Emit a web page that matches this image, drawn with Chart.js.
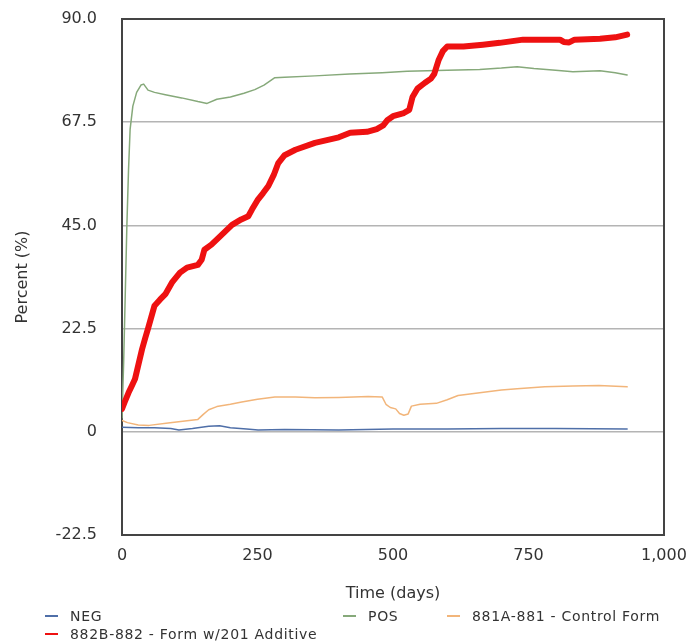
<!DOCTYPE html>
<html>
<head>
<meta charset="utf-8">
<script src="https://cdn.jsdelivr.net/npm/chart.js@4/dist/chart.umd.min.js"></script>
<style>
  html, body { margin: 0; padding: 0; background: #fff; }
  #wrap { position: relative; width: 692px; height: 642px; }
  #legend { position: absolute; left: 0; top: 0; width: 692px; height: 642px; pointer-events: none;
            font-family: "DejaVu Sans", sans-serif; font-size: 14px; letter-spacing: 0.7px; color: #333; }
  .item { position: absolute; white-space: nowrap; line-height: 16px; }
  .dash { display: inline-block; width: 13px; height: 2px; vertical-align: middle; margin-right: 12px; position: relative; top: -1px; }
</style>
</head>
<body>
<div id="wrap">
  <canvas id="c" width="692" height="642"></canvas>
  <div id="legend"></div>
</div>
<script>
// ---- data ----
const seriesNames = ["NEG", "POS", "881A-881 - Control Form", "882B-882 - Form w/201 Additive"];

const negDays   = [0, 30, 60, 90, 105, 130, 160, 180, 200, 230, 251, 300, 400, 500, 600, 700, 800, 932];
const negValues = [1.0, 0.9, 0.9, 0.7, 0.4, 0.7, 1.2, 1.3, 0.9, 0.6, 0.4, 0.5, 0.4, 0.6, 0.6, 0.7, 0.7, 0.6];

const posDays   = [0, 3, 6, 9, 12, 15, 20, 27, 35, 40, 48, 60, 80, 110, 140, 157, 175, 200, 225, 245, 262, 282, 300, 356, 420, 480, 526, 600, 660, 700, 729, 760, 800, 832, 882, 910, 932];
const posValues = [3, 15, 30, 45, 57, 66, 71, 74, 75.6, 75.8, 74.5, 74.0, 73.5, 72.8, 72.0, 71.6, 72.5, 73.0, 73.8, 74.6, 75.6, 77.2, 77.3, 77.6, 78.0, 78.3, 78.6, 78.8, 79.0, 79.3, 79.6, 79.2, 78.8, 78.5, 78.7, 78.3, 77.8];

const ctrlDays   = [0, 10, 30, 50, 85, 120, 140, 150, 160, 175, 200, 221, 250, 282, 320, 356, 400, 454, 480, 487, 495, 505, 512, 520, 528, 534, 550, 580, 600, 620, 660, 700, 729, 780, 832, 880, 932];
const ctrlValues = [2.5, 2.0, 1.5, 1.4, 1.9, 2.4, 2.7, 3.8, 4.8, 5.5, 6.0, 6.5, 7.1, 7.6, 7.6, 7.4, 7.5, 7.7, 7.6, 6.0, 5.3, 5.0, 4.0, 3.6, 3.9, 5.6, 6.0, 6.2, 7.0, 7.9, 8.5, 9.1, 9.4, 9.8, 10.0, 10.1, 9.8];

const addDays   = [0, 5, 12, 18, 24, 30, 37, 43, 48, 54, 60, 70, 80, 92, 107, 120, 140, 147, 152, 165, 180, 203, 220, 233, 240, 250, 260, 270, 280, 288, 300, 320, 356, 400, 421, 452, 470, 482, 490, 500, 520, 530, 536, 545, 559, 570, 576, 584, 592, 600, 630, 666, 697, 740, 808, 815, 825, 835, 882, 910, 932];
const addValues = [5.0, 6.5, 8.5, 10.0, 11.5, 14.5, 18.0, 20.5, 22.5, 25.0, 27.5, 28.8, 30.0, 32.5, 34.7, 35.8, 36.4, 37.5, 39.7, 40.8, 42.5, 45.1, 46.3, 47.0, 48.5, 50.5, 52.0, 53.6, 56.0, 58.5, 60.3, 61.5, 63.0, 64.2, 65.2, 65.4, 66.0, 66.8, 68.0, 68.8, 69.5, 70.2, 73.0, 74.8, 76.1, 77.0, 78.0, 81.0, 83.0, 84.0, 84.0, 84.4, 84.8, 85.5, 85.5, 85.0, 84.9, 85.5, 85.7, 86.0, 86.6];

const yTicks = [-22.5, 0, 22.5, 45, 67.5, 90];
const xTicks = [0, 250, 500, 750, 1000];

const seriesColors = ["#4f6fa8", "#86a97a", "#f2b57a", "#ee1111"];
const seriesWidths = [1.5, 1.5, 1.5, 6];

function pts(xs, ys) { return xs.map((x, i) => ({ x: x, y: ys[i] })); }
const seriesData = [pts(negDays, negValues), pts(posDays, posValues), pts(ctrlDays, ctrlValues), pts(addDays, addValues)];

const FONT = "'DejaVu Sans', sans-serif";

const borderPlugin = {
  id: 'plotBorder',
  beforeDatasetsDraw(chart) {
    const a = chart.chartArea, ctx = chart.ctx;
    ctx.save();
    ctx.strokeStyle = '#444';
    ctx.lineWidth = 2;
    ctx.strokeRect(a.left, a.top, a.right - a.left, a.bottom - a.top);
    ctx.restore();
  }
};

const chart = new Chart(document.getElementById('c'), {
  type: 'line',
  data: {
    datasets: seriesNames.map((n, i) => ({
      label: n,
      data: seriesData[i],
      borderColor: seriesColors[i],
      backgroundColor: seriesColors[i],
      borderWidth: seriesWidths[i],
      pointRadius: 0,
      tension: 0,
      fill: false,
      borderJoinStyle: 'round',
      borderCapStyle: 'round',
      order: i === 3 ? 0 : 1
    }))
  },
  options: {
    responsive: false,
    animation: false,
    devicePixelRatio: 1,
    layout: { padding: { left: 0, right: 28, top: 19, bottom: 37 } },
    plugins: { legend: { display: false }, tooltip: { enabled: false } },
    scales: {
      x: {
        type: 'linear', min: 0, max: 1000,
        afterBuildTicks: s => { s.ticks = xTicks.map(v => ({ value: v })); },
        afterFit: s => { s.height = 70; s.paddingLeft = 0; s.paddingRight = 0; },
        grid: { display: false, drawTicks: false },
        border: { display: false },
        ticks: { padding: 11, color: '#333', font: { family: FONT, size: 16 },
                 callback: v => v.toLocaleString('en-US'), maxRotation: 0 },
        title: { display: true, text: 'Time (days)', color: '#333',
                 font: { family: FONT, size: 16 }, padding: { top: 0, bottom: 2 } }
      },
      y: {
        type: 'linear', min: -22.5, max: 90,
        afterBuildTicks: s => { s.ticks = yTicks.map(v => ({ value: v })); },
        afterFit: s => { s.width = 122; s.paddingTop = 0; s.paddingBottom = 0; },
        grid: { drawTicks: false, lineWidth: 1.5,
                color: c => (c.tick && (c.tick.value === 90 || c.tick.value === -22.5)) ? 'rgba(0,0,0,0)' : '#b4b4b4' },
        border: { display: false },
        ticks: { padding: 25, color: '#333', font: { family: FONT, size: 16 },
                 callback: v => v === 0 ? '0' : v.toFixed(1) },
        title: { display: true, text: 'Percent (%)', color: '#333',
                 font: { family: FONT, size: 16 }, padding: { top: 13, bottom: 0 } }
      }
    }
  },
  plugins: [borderPlugin]
});

// legend (HTML), built from the chart's datasets
const legendPos = [
  { left: 45, top: 608 },
  { left: 343, top: 608 },
  { left: 447, top: 608 },
  { left: 45, top: 626 }
];
const lg = document.getElementById('legend');
chart.data.datasets.forEach((ds, i) => {
  const d = document.createElement('div');
  d.className = 'item';
  d.style.left = legendPos[i].left + 'px';
  d.style.top = legendPos[i].top + 'px';
  const sw = document.createElement('span');
  sw.className = 'dash';
  sw.style.background = ds.borderColor;
  d.appendChild(sw);
  d.appendChild(document.createTextNode(ds.label));
  lg.appendChild(d);
});
</script>
</body>
</html>
